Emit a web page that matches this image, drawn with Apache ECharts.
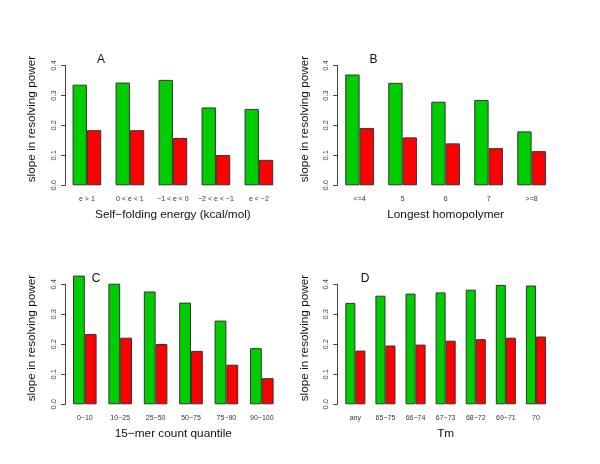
<!DOCTYPE html>
<html>
<head>
<meta charset="utf-8">
<script src="https://cdn.jsdelivr.net/npm/echarts@6/dist/echarts.min.js"></script>
<style>html,body{margin:0;padding:0;background:#fff;}#c{width:600px;height:464px;}</style>
</head>
<body>
<div id="c"></div>
<script>
// Panel A: self-folding energy
const catsA = ['e > 1', '0 < e < 1', '−1 < e < 0', '−2 < e < −1', 'e < −2'];
const greenA = [0.336, 0.343, 0.352, 0.260, 0.255];
const redA   = [0.184, 0.184, 0.158, 0.101, 0.085];
// Panel B: longest homopolymer
const catsB = ['<=4', '5', '6', '7', '>=8'];
const greenB = [0.370, 0.342, 0.279, 0.285, 0.180];
const redB   = [0.191, 0.160, 0.140, 0.124, 0.114];
// Panel C: 15-mer count quantile
const catsC = ['0−10', '10−25', '25−50', '50−75', '75−90', '90−100'];
const greenC = [0.429, 0.402, 0.376, 0.339, 0.279, 0.187];
const redC   = [0.234, 0.222, 0.201, 0.178, 0.132, 0.087];
// Panel D: Tm
const catsD = ['any', '65−75', '66−74', '67−73', '68−72', '69−71', '70'];
const greenD = [0.338, 0.362, 0.369, 0.373, 0.382, 0.398, 0.396];
const redD   = [0.179, 0.196, 0.199, 0.212, 0.217, 0.222, 0.226];
// axis
const yTicks = [0, 0.1, 0.2, 0.3, 0.4];
const xTitles = ['Self−folding energy (kcal/mol)', 'Longest homopolymer', '15−mer count quantile', 'Tm'];
const panelLetters = ['A', 'B', 'C', 'D'];
const yTitle = 'slope in resolving power';

const FONT = '"Liberation Sans", Arial, sans-serif';
const GREEN = '#00CD00', RED = '#FF0000';

const panels = [
  {cats: catsA, g: greenA, r: redA, grid: {left: 65.4, top: 65.5, width: 215, height: 119.8}, off: 0.4, letter: [101, 60], ytitle: [32, 119]},
  {cats: catsB, g: greenB, r: redB, grid: {left: 338.1, top: 65.5, width: 215, height: 119.8}, off: 1, letter: [373.5, 60], ytitle: [305, 119]},
  {cats: catsC, g: greenC, r: redC, grid: {left: 67.1, top: 284.3, width: 212.4, height: 120}, off: 2.1, letter: [96, 278.5], ytitle: [32, 338]},
  {cats: catsD, g: greenD, r: redD, grid: {left: 340.3, top: 284.3, width: 210.7, height: 120}, off: 3, letter: [365, 278.5], ytitle: [305, 338]}
];

const option = {
  backgroundColor: '#fff',
  animation: false,
  grid: [], xAxis: [], yAxis: [], series: [], graphic: []
};

panels.forEach((p, i) => {
  option.grid.push(Object.assign({containLabel: false}, p.grid));
  option.xAxis.push({
    type: 'category', gridIndex: i, data: p.cats,
    axisLine: {show: false}, axisTick: {show: false},
    axisLabel: {interval: 0, fontSize: 7, color: '#333', margin: 10, fontFamily: FONT},
    name: xTitles[i], nameLocation: 'middle', nameGap: 23.5,
    nameTextStyle: {fontSize: 11.8, color: '#111', fontFamily: FONT}
  });
  option.yAxis.push({
    type: 'value', gridIndex: i, min: yTicks[0], max: yTicks[yTicks.length - 1], interval: 0.1,
    offset: p.off,
    axisLine: {show: true, lineStyle: {color: '#444', width: 1}},
    axisTick: {show: true, length: 4, lineStyle: {color: '#444'}},
    splitLine: {show: false},
    axisLabel: {rotate: 90, fontSize: 7.5, color: '#444', margin: 7, fontFamily: FONT,
      formatter: v => v.toFixed(1)}
  });
  option.series.push({
    type: 'bar', xAxisIndex: i, yAxisIndex: i, data: p.g, clip: false,
    barGap: '0%', barCategoryGap: '33.333%',
    itemStyle: {color: GREEN, borderColor: '#333', borderWidth: 1}
  });
  option.series.push({
    type: 'bar', xAxisIndex: i, yAxisIndex: i, data: p.r, clip: false,
    barGap: '0%', barCategoryGap: '33.333%',
    itemStyle: {color: RED, borderColor: '#333', borderWidth: 1}
  });
  option.graphic.push({
    type: 'text', x: p.letter[0], y: p.letter[1],
    style: {text: panelLetters[i], fontSize: 12, fill: '#111', fontFamily: FONT, align: 'center', verticalAlign: 'middle'}
  });
  option.graphic.push({
    type: 'text', x: p.ytitle[0], y: p.ytitle[1], rotation: Math.PI / 2,
    style: {text: yTitle, fontSize: 11.8, fill: '#111', fontFamily: FONT, align: 'center', verticalAlign: 'middle'}
  });
});

const chart = echarts.init(document.getElementById('c'), null, {renderer: 'canvas'});
chart.setOption(option);
</script>
</body>
</html>
